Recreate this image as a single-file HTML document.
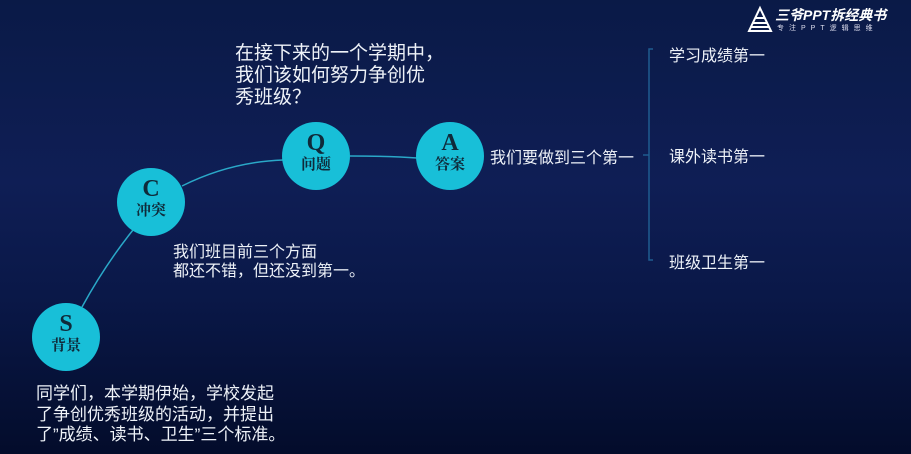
<!DOCTYPE html>
<html><head><meta charset="utf-8"><style>
html,body{margin:0;padding:0}
body{width:911px;height:454px;overflow:hidden;position:relative;background:linear-gradient(180deg,#0a1a47 0%,#0f1e55 40%,#0a1848 65%,#030c2b 100%);font-family:"Liberation Sans","Noto Sans CJK SC",sans-serif;color:#eef2f8}
.t{position:absolute;white-space:nowrap}
.c{position:absolute;width:68px;height:68px;border-radius:50%;background:#18bfd8;color:#0f2a3a;text-align:center;font-family:"Liberation Serif","Noto Serif CJK SC",serif;font-weight:bold}
.c b{display:block;font-size:24px;line-height:24px;margin-top:9px}
.c i{display:block;font-style:normal;font-size:15px;line-height:20px}
</style></head><body>
<svg width="911" height="454" style="position:absolute;left:0;top:0">
<path d="M82 307 Q105 265 133 230" stroke="#2aa8c8" stroke-width="1.5" fill="none"/>
<path d="M182 186 Q230 162 283 160" stroke="#2aa8c8" stroke-width="1.5" fill="none"/>
<path d="M350 156 Q390 156 417 158" stroke="#2aa8c8" stroke-width="1.5" fill="none"/>
<path d="M653 49 H649 V260 H653 M649 155 H643" stroke="#1f5c90" stroke-width="1.5" fill="none"/>
</svg>
<div class="c" style="left:32px;top:303px"><b>S</b><i>背景</i></div>
<div class="c" style="left:117px;top:168px"><b>C</b><i>冲突</i></div>
<div class="c" style="left:282px;top:122px"><b>Q</b><i>问题</i></div>
<div class="c" style="left:416px;top:122px"><b>A</b><i>答案</i></div>
<div class="t" style="left:235px;top:43px;font-size:19px;line-height:22px">在接下来的一个学期中，<br>我们该如何努力争创优<br>秀班级？</div>
<div class="t" style="left:173px;top:243px;font-size:16px;line-height:19px">我们班目前三个方面<br>都还不错，但还没到第一。</div>
<div class="t" style="left:36px;top:384px;font-size:17px;line-height:20.5px">同学们，本学期伊始，学校发起<br>了争创优秀班级的活动，并提出<br>了”成绩、读书、卫生”三个标准。</div>
<div class="t" style="left:490px;top:144px;font-size:16px">我们要做到三个第一</div>
<div class="t" style="left:669px;top:42px;font-size:16px">学习成绩第一</div>
<div class="t" style="left:669px;top:143px;font-size:16px">课外读书第一</div>
<div class="t" style="left:669px;top:249px;font-size:16px">班级卫生第一</div>
<svg width="26" height="30" style="position:absolute;left:747px;top:5px"><polygon points="13,3 24,26 2,26" fill="none" stroke="#fff" stroke-width="2"/><path d="M6 18H20M8 13H18M4 22H22" stroke="#fff" stroke-width="2"/></svg>
<div class="t" style="left:775px;top:5px;font-size:14px;font-weight:bold;font-style:italic;color:#fff">三爷PPT拆经典书</div>
<div class="t" style="left:777px;top:23px;font-size:7px;letter-spacing:5px;color:#dde">专注PPT逻辑思维</div>
</body></html>
